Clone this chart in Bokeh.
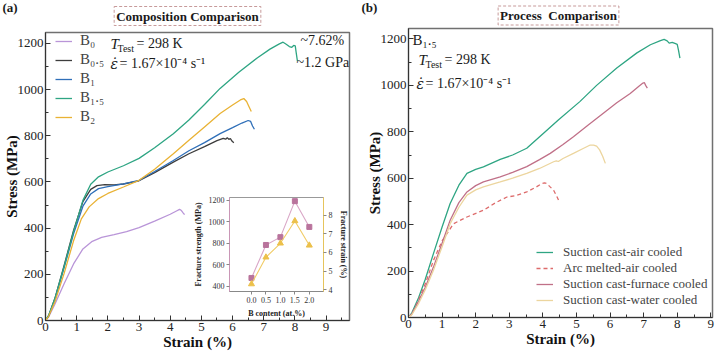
import math
from bokeh.plotting import figure
from bokeh.models import (Range1d, LinearAxis, FixedTicker, Legend, LegendItem,
                          Label, CustomJSTickFormatter)
from bokeh.layouts import row, column
from bokeh.embed import file_html
from bokeh.resources import INLINE

SERIF = "Liberation Serif"

# ---------------- data: panel (a) composition comparison ----------------
comp_names = ["B₀", "B₀.₅", "B₁", "B₁.₅", "B₂"]

b0_strain = [0, 0.1, 0.3, 0.6, 0.9, 1.2, 1.5, 1.8, 2.2, 2.6, 3.0, 3.5, 4.0, 4.2, 4.3, 4.36, 4.42, 4.46]
b0_stress = [0, 15, 70, 160, 245, 310, 343, 360, 372, 385, 402, 430, 460, 474, 481, 476, 465, 458]

b05_strain = [0, 0.1, 0.3, 0.6, 0.9, 1.2, 1.45, 1.65, 1.9, 2.2, 2.5, 3.0, 3.5, 4.1, 4.6, 5.1, 5.5,
              5.7, 5.78, 5.83, 5.88, 5.93, 5.98, 6.04]
b05_stress = [0, 20, 95, 240, 390, 515, 568, 584, 588, 587, 591, 605, 640, 686, 722, 753, 779,
              789, 785, 792, 784, 788, 777, 770]

b1_strain = [0, 0.1, 0.3, 0.6, 0.9, 1.2, 1.45, 1.7, 2.0, 2.5, 3.0, 3.5, 4.1, 4.6, 5.1, 5.6, 6.0,
             6.3, 6.5, 6.58, 6.64, 6.7]
b1_stress = [0, 20, 90, 230, 375, 495, 548, 571, 580, 592, 607, 645, 693, 735, 770, 809, 835,
             855, 866, 862, 842, 828]

b15_strain = [0, 0.1, 0.3, 0.6, 0.9, 1.2, 1.45, 1.7, 2.0, 2.5, 3.0, 3.5, 4.1, 4.6, 5.1, 5.6, 6.2,
              6.8, 7.2, 7.5, 7.62, 7.72, 7.82, 7.9, 7.96, 8.01, 8.04, 8.08]
b15_stress = [0, 22, 95, 235, 385, 520, 590, 622, 643, 670, 702, 748, 809, 868, 935, 1005, 1075,
              1138, 1175, 1198, 1205, 1196, 1186, 1183, 1191, 1189, 1160, 1123]

b2_strain = [0, 0.1, 0.3, 0.6, 0.9, 1.15, 1.4, 1.7, 2.0, 2.5, 3.0, 3.5, 4.1, 4.6, 5.1, 5.6, 6.0,
             6.25, 6.36, 6.45, 6.52, 6.6]
b2_stress = [0, 18, 80, 205, 345, 440, 492, 528, 550, 578, 607, 655, 722, 780, 838, 896, 933,
             955, 961, 948, 928, 905]

# ---------------- data: panel (b) process comparison ----------------
proc_names = ["Suction cast-air cooled", "Arc melted-air cooled",
              "Suction cast-furnace cooled", "Suction cast-water cooled"]

air_strain = [0, 0.1, 0.3, 0.5, 0.74, 1.0, 1.24, 1.5, 1.74, 2.0, 2.23, 2.73, 3.1, 3.52, 4.02, 4.46,
              5.1, 5.6, 6.2, 6.8, 7.2, 7.5, 7.61, 7.7, 7.76, 7.85, 7.95, 8.0, 8.04, 8.08]
air_stress = [0, 20, 85, 165, 274, 390, 491, 570, 621, 638, 649, 681, 700, 729, 794, 851,
              930, 1000, 1075, 1140, 1175, 1193, 1198, 1192, 1182, 1185, 1180, 1177, 1150, 1117]

arc_strain = [0, 0.1, 0.3, 0.5, 0.74, 1.0, 1.34, 1.74, 2.23, 2.6, 2.93, 3.2, 3.52, 3.8, 3.97, 4.05,
              4.12, 4.2, 4.32, 4.42, 4.49]
arc_stress = [0, 15, 75, 145, 245, 330, 404, 433, 462, 495, 519, 525, 541, 562, 577, 580,
              577, 565, 548, 520, 498]

furn_strain = [0, 0.1, 0.3, 0.5, 0.74, 1.0, 1.24, 1.5, 1.74, 2.0, 2.23, 2.73, 3.1, 3.52, 3.9, 4.22,
               4.6, 4.91, 5.36, 5.8, 6.2, 6.6, 6.85, 6.98, 7.02, 7.06, 7.11]
furn_stress = [0, 15, 70, 130, 216, 320, 419, 495, 541, 568, 584, 606, 625, 650, 680, 707,
               745, 779, 830, 880, 925, 965, 995, 1010, 1012, 1000, 988]

water_strain = [0, 0.1, 0.3, 0.5, 0.74, 1.0, 1.24, 1.5, 1.74, 2.0, 2.23, 2.73, 3.1, 3.52, 3.9, 4.32,
                4.4, 4.46, 4.6, 4.91, 5.2, 5.41, 5.51, 5.6, 5.69, 5.78, 5.86]
water_stress = [0, 12, 60, 120, 202, 305, 404, 475, 527, 550, 563, 584, 600, 621, 642, 671,
                675, 672, 685, 707, 728, 743, 743, 738, 722, 695, 664]

# ---------------- data: inset ----------------
b_content = [0.0, 0.5, 1.0, 1.5, 2.0]
frac_strength = [476, 783, 856, 1191, 951]
frac_strain = [4.30, 5.74, 6.49, 7.69, 6.38]

x_major = [0, 1, 2, 3, 4, 5, 6, 7, 8, 9]
x_minor = [0.5, 1.5, 2.5, 3.5, 4.5, 5.5, 6.5, 7.5, 8.5, 9.5]
y_major = [0, 200, 400, 600, 800, 1000, 1200]
y_minor = [100, 300, 500, 700, 900, 1100]

comp_colors = ["#b995d8", "#3d3d3d", "#2f6fb8", "#2ea583", "#e9b234"]
proc_colors = ["#2ea583", "#dd6b6b", "#c07088", "#ecd59e"]
proc_dash = ["solid", "4 3", "solid", "solid"]


def style_main(p):
    p.toolbar_location = None
    p.xgrid.visible = False
    p.ygrid.visible = False
    p.outline_line_color = "#707070"
    p.outline_line_width = 1.5
    p.background_fill_color = "white"
    for ax in (p.xaxis[0], p.yaxis[0]):
        ax.major_tick_in = 5
        ax.major_tick_out = 0
        ax.minor_tick_in = 3
        ax.minor_tick_out = 0
        ax.axis_line_color = "#333333"
        ax.major_tick_line_color = "#333333"
        ax.minor_tick_line_color = "#333333"
        ax.major_label_text_font = SERIF
        ax.major_label_text_font_size = "13px"
        ax.major_label_text_color = "#222222"
        ax.axis_label_text_font = SERIF
        ax.axis_label_text_font_size = "15px"
        ax.axis_label_text_font_style = "bold"
        ax.axis_label_text_color = "#111111"
        ax.major_label_standoff = 2
        ax.axis_label_standoff = 0
    p.yaxis[0].axis_label_standoff = -5
    p.xaxis[0].ticker = FixedTicker(ticks=x_major, minor_ticks=x_minor)
    p.yaxis[0].ticker = FixedTicker(ticks=y_major, minor_ticks=y_minor)
    p.xaxis[0].axis_label = "Strain (%)"
    p.yaxis[0].axis_label = "Stress (MPa)"


def text(p, x, y, t, size="14px", style="normal", align="left", box=False, font=SERIF):
    kw = {}
    if box:
        kw = dict(border_line_color="#c79a9a", border_line_dash="3 2", border_line_width=1, padding=2)
    p.add_layout(Label(x=x, y=y, x_units="screen", y_units="screen", text=t,
                       text_font=font, text_font_size=size, text_font_style=style,
                       text_baseline="middle", text_align=align, text_color="#1a1a1a", **kw))


def cond_text(p, x0, y0):
    text(p, x0, y0, "T", "15px", "italic")
    text(p, x0 + 7, y0 - 5, "Test", "10px")
    text(p, x0 + 26, y0, "= 298 K", "14px")


def rate_text(p, x0, y0):
    text(p, x0, y0, "ε̇", "14px", "italic", font="DejaVu Serif")
    text(p, x0 + 9, y0, "= 1.67×10⁻⁴ s⁻¹", "14px")


# ---------------- panel (a) ----------------
pa = figure(frame_width=304, frame_height=288, x_range=Range1d(0, 9.75), y_range=Range1d(0, 1247),
            min_border_left=45, min_border_right=8, min_border_top=32, min_border_bottom=34,
            output_backend="svg", toolbar_location=None)
style_main(pa)
series_a = [(b0_strain, b0_stress), (b05_strain, b05_stress), (b1_strain, b1_stress),
            (b15_strain, b15_stress), (b2_strain, b2_stress)]
items_a = []
for (xs, ys), name, col in zip(series_a, comp_names, comp_colors):
    r = pa.line(xs, ys, line_color=col, line_width=1.3)
    items_a.append(LegendItem(label=name, renderers=[r]))
leg_a = Legend(items=items_a, location=(10, 195), label_text_font=SERIF, label_text_font_size="15px",
               glyph_width=17, glyph_height=16, label_height=16, spacing=2, padding=2, margin=0,
               label_standoff=8, border_line_color=None, background_fill_alpha=0)
pa.add_layout(leg_a)
cond_text(pa, 65, 277)
rate_text(pa, 65, 257)
text(pa, 255, 280, "~7.62%", "14px")
text(pa, 251, 258, "~1.2 GPa", "14px")

# ---------------- panel (b) ----------------
pb = figure(frame_width=304, frame_height=289, x_range=Range1d(0, 9.05), y_range=Range1d(0, 1245),
            min_border_left=51, min_border_right=3, min_border_top=28, min_border_bottom=37,
            output_backend="svg", toolbar_location=None)
style_main(pb)
series_b = [(air_strain, air_stress), (arc_strain, arc_stress), (furn_strain, furn_stress),
            (water_strain, water_stress)]
items_b = []
for (xs, ys), name, col, dash in zip(series_b, proc_names, proc_colors, proc_dash):
    r = pb.line(xs, ys, line_color=col, line_width=1.3, line_dash=dash)
    items_b.append(LegendItem(label=name, renderers=[r]))
leg_b = Legend(items=items_b, location=(128, 9), label_text_font=SERIF, label_text_font_size="13px",
               glyph_width=17, glyph_height=16, label_height=16, spacing=0, padding=5, margin=0,
               label_standoff=10, border_line_color=None, background_fill_alpha=0)
pb.add_layout(leg_b)
text(pb, 4, 278, "B₁.₅", "15px")
cond_text(pb, 10, 258)
rate_text(pb, 8, 234)

# ---------------- inset ----------------
ins = figure(width=160, height=127, x_range=Range1d(-0.76, 2.49), y_range=Range1d(350, 1225),
             min_border_left=38, min_border_right=22, min_border_top=4, min_border_bottom=27,
             output_backend="svg", toolbar_location=None)
ins.extra_y_ranges = {"strain": Range1d(3.9, 8.95)}
ins.xgrid.visible = False
ins.ygrid.visible = False
ins.background_fill_color = "white"
ins.border_fill_alpha = 0
ins.outline_line_color = "#999999"
ins.line(b_content, frac_strength, line_color="#d9a6c6", line_width=1.1)
ins.scatter(b_content, frac_strength, marker="square", size=5, fill_color="#b9739c", line_color="#b9739c")
ins.line(b_content, frac_strain, y_range_name="strain", line_color="#f1cc66", line_width=1.1)
ins.scatter(b_content, frac_strain, y_range_name="strain", marker="triangle", size=6,
            fill_color="#ecc04a", line_color="#ecc04a")
rax = LinearAxis(y_range_name="strain", axis_label="Fracture strain (%)")
ins.add_layout(rax, "right")
ins.xaxis[0].ticker = FixedTicker(ticks=b_content)
ins.xaxis[0].formatter = CustomJSTickFormatter(code="return tick.toFixed(1);")
ins.xaxis[0].axis_label = "B content (at.%)"
ins.yaxis[0].ticker = FixedTicker(ticks=[400, 600, 800, 1000, 1200])
ins.yaxis[0].axis_label = "Fracture strength (MPa)"
rax.ticker = FixedTicker(ticks=[4, 5, 6, 7, 8])
for ax in (ins.xaxis[0], ins.yaxis[0], rax):
    ax.major_tick_in = 0
    ax.major_tick_out = 3
    ax.minor_tick_out = 0
    ax.minor_tick_in = 0
    ax.major_label_text_font = SERIF
    ax.major_label_text_font_size = "8px"
    ax.major_label_text_color = "#333333"
    ax.axis_label_text_font = SERIF
    ax.axis_label_text_font_size = "8px"
    ax.axis_label_text_font_style = "bold"
    ax.axis_label_text_color = "#222222"
    ax.major_label_standoff = 2
    ax.axis_label_standoff = 3
    ax.axis_line_color = "#888888"
    ax.major_tick_line_color = "#888888"
ins.yaxis[0].axis_line_color = "#c996b6"
rax.axis_line_color = "#e6c45c"
try:
    rax.axis_label_orientation = "vertical"
except Exception:
    pass

# ---------------- header (panel tags and boxed titles) ----------------
hdr = figure(width=715, height=30, x_range=Range1d(0, 715), y_range=Range1d(0, 30),
             x_axis_type=None, y_axis_type=None, min_border=0,
             output_backend="svg", toolbar_location=None)
hdr.xgrid.visible = False
hdr.ygrid.visible = False
hdr.outline_line_color = None
hdr.background_fill_alpha = 0
hdr.border_fill_alpha = 0
text(hdr, 2, 23, "(a)", "13px", "bold")
text(hdr, 361, 23, "(b)", "13px", "bold")
text(hdr, 187, 14.5, "Composition Comparison", "13px", "bold", "center", box=True)
text(hdr, 558, 15, "Process\u00a0 Comparison", "13px", "bold", "center", box=True)

col_a = column(pa)
col_b = column(pb)
col_ins = column(ins, styles={"position": "absolute", "left": "190px", "top": "193px"})
col_hdr = column(hdr, styles={"position": "absolute", "left": "0px", "top": "0px"})

root = row(col_a, col_b, col_ins, col_hdr)
open("out.html", "w").write(file_html(root, INLINE))
